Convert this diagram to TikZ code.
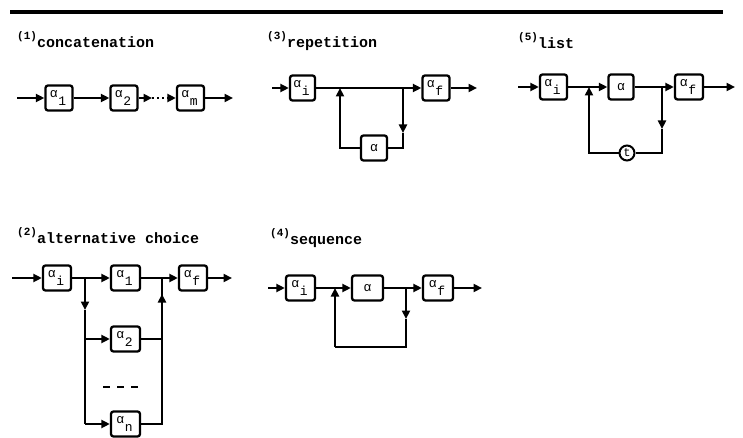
\documentclass[tikz,border=0pt]{standalone}
\usepackage{fontspec}
\setmonofont{Liberation Mono}
\usetikzlibrary{arrows.meta}
\tikzset{
  box/.style={draw, line width=2.3pt, rounded corners=2.5pt, minimum width=27pt, minimum height=25pt, inner sep=0pt, font=\ttfamily\fontsize{13}{13}\selectfont},
  circ/.style={draw, circle, line width=2pt, minimum size=15pt, inner sep=0pt, font=\ttfamily\fontsize{12}{12}\selectfont},
  ln/.style={line width=2.1pt},
  arr/.style={ln, -{Triangle[length=8.5pt,width=8pt]}},
  lab/.style={anchor=base west, inner sep=0pt, font=\ttfamily\bfseries\fontsize{15}{15}\selectfont},
}
\newcommand\alp[1]{\kern-2pt\raisebox{3.5pt}{α}\kern0.5pt\raisebox{-4.5pt}{#1}}
\newcommand\plabel[1]{\raisebox{8pt}{\fontsize{11}{11}\selectfont(#1)}}
\begin{document}
\begin{tikzpicture}[x=1pt,y=-1pt]
\useasboundingbox (0,0) rectangle (743,438);
\draw[line width=3.8pt] (10,12) -- (723,12);

% (1) concatenation
\node[lab] (t1) at (17,48) {\plabel{1}concatenation};
\coordinate (c1in) at (17,98);
\node[box] (c1a) at (59,98) {\alp{1}};
\node[box] (c1b) at (124,98) {\alp{2}};
\node[box] (c1m) at (190.5,98) {\alp{m}};
\coordinate (c1d1) at (152,98);
\coordinate (c1d2) at (169,98);
\coordinate (c1out) at (233,98);
\draw[arr] (c1in) -- (c1a);
\draw[arr] (c1a) -- (c1b);
\draw[arr] (c1b) -- (c1d1);
\draw[ln, dash pattern=on 2pt off 3pt] (c1d1) -- (c1d2);
\draw[arr] (c1d2) -- (c1m);
\draw[arr] (c1m) -- (c1out);

% (3) repetition
\node[lab] (t3) at (267,48) {\plabel{3}repetition};
\node[box, minimum width=25pt] (ri) at (302.5,88) {\alp{i}};
\node[box] (rf) at (436,88) {\alp{f}};
\node[box, minimum width=26pt] (ra) at (374,148) {α};
\coordinate (rin) at (272,88);
\coordinate (rout) at (477,88);
\coordinate (rjl) at (340,88);
\coordinate (rjr) at (403,88);
\coordinate (rbl) at (340,148);
\coordinate (rbr) at (403,148);
\coordinate (rdn) at (403,133);
\draw[arr] (rin) -- (ri);
\draw[arr] (ri) -- (rf);
\draw[arr] (rf) -- (rout);
\draw[arr] (rjr) -- (rdn);
\draw[ln] (rdn) -- (rbr) -- (ra);
\draw[arr] (ra) -- (rbl) -- (rjl);

% (5) list
\node[lab] (t5) at (518,49) {\plabel{5}list};
\node[box] (li) at (553.5,87) {\alp{i}};
\node[box, minimum width=25pt] (la) at (621,87) {α};
\node[box, minimum width=28pt] (lf) at (689,87) {\alp{f}};
\node[circ] (lt) at (627,153) {t};
\coordinate (lin) at (518,87);
\coordinate (lout) at (735,87);
\coordinate (ljl) at (589,87);
\coordinate (ljr) at (662,87);
\coordinate (lbl) at (589,153);
\coordinate (lbr) at (662,153);
\coordinate (ldn) at (662,129);
\draw[arr] (lin) -- (li);
\draw[arr] (li) -- (la);
\draw[arr] (la) -- (lf);
\draw[arr] (lf) -- (lout);
\draw[arr] (ljr) -- (ldn);
\draw[ln] (ldn) -- (lbr) -- (lt);
\draw[arr] (lt) -- (lbl) -- (ljl);

% (2) alternative choice
\node[lab] (t2) at (17,243) {\plabel{2}alternative choice};
\node[box, minimum width=28pt] (ai) at (57,278) {\alp{i}};
\node[box, minimum width=29pt] (a1) at (125.5,278) {\alp{1}};
\node[box, minimum width=28pt] (af) at (193,278) {\alp{f}};
\node[box, minimum width=29pt] (a2) at (125.5,339) {\alp{2}};
\node[box, minimum width=29pt] (an) at (125.5,424) {\alp{n}};
\coordinate (ain) at (12,278);
\coordinate (aout) at (232,278);
\coordinate (ajl) at (85,278);
\coordinate (ajr) at (162,278);
\coordinate (adn) at (85,310);
\coordinate (aup) at (162,294);
\coordinate (al2) at (85,339);
\coordinate (ar2) at (162,339);
\coordinate (aln) at (85,424);
\coordinate (arn) at (162,424);
\coordinate (ad1) at (103,387);
\coordinate (ad2) at (139,387);
\draw[arr] (ain) -- (ai);
\draw[arr] (ai) -- (a1);
\draw[arr] (a1) -- (af);
\draw[arr] (af) -- (aout);
\draw[arr] (ajl) -- (adn);
\draw[ln] (adn) -- (aln);
\draw[arr] (al2) -- (a2);
\draw[arr] (aln) -- (an);
\draw[ln] (a2) -- (ar2);
\draw[ln] (an) -- (arn) -- (ajr);
\draw[arr] (ar2) -- (aup);
\draw[line width=2.5pt, dash pattern=on 7pt off 7pt] (ad1) -- (ad2);

% (4) sequence
\node[lab] (t4) at (270,244) {\plabel{4}sequence};
\node[box, minimum width=29pt] (si) at (300.5,288) {\alp{i}};
\node[box, minimum width=31pt] (sa) at (367.5,288) {α};
\node[box, minimum width=30pt] (sf) at (438,288) {\alp{f}};
\coordinate (sin) at (268,288);
\coordinate (sout) at (482,288);
\coordinate (sjl) at (335,288);
\coordinate (sjr) at (406,288);
\coordinate (sbl) at (335,347);
\coordinate (sbr) at (406,347);
\coordinate (sdn) at (406,319);
\draw[arr] (sin) -- (si);
\draw[arr] (si) -- (sa);
\draw[arr] (sa) -- (sf);
\draw[arr] (sf) -- (sout);
\draw[arr] (sjr) -- (sdn);
\draw[ln] (sdn) -- (sbr) -- (sbl);
\draw[arr] (sbl) -- (sjl);
\end{tikzpicture}
\end{document}
